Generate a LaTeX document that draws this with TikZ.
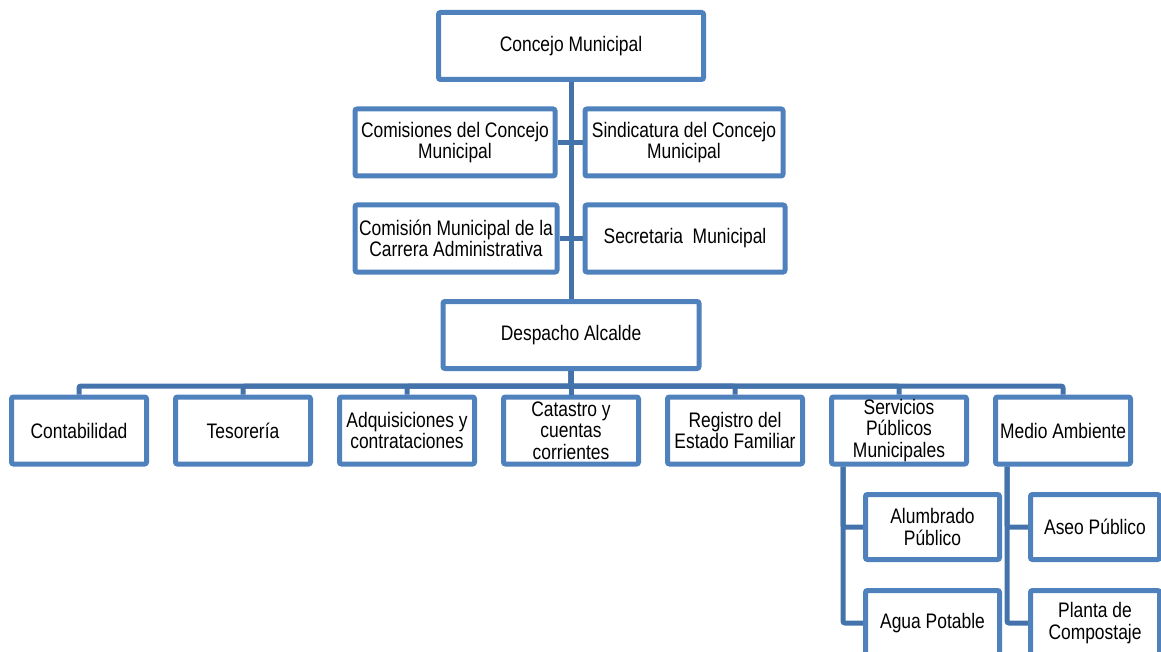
\documentclass[tikz,border=0pt]{standalone}
\usepackage{fontspec}
\setmainfont[FakeStretch=0.83]{Liberation Sans}
\definecolor{boxblue}{RGB}{79,129,189}
\definecolor{lineblue}{RGB}{68,115,172}
\tikzset{
  orgbox/.style={draw=boxblue,line width=5pt,rounded corners=2pt,fill=white,align=center,
    inner sep=0pt,minimum width=#1,minimum height=67pt,font=\fontsize{21pt}{21.5pt}\selectfont},
  link/.style={lineblue,line width=5pt,rounded corners=2pt}
}
\begin{document}
\begin{tikzpicture}[x=1pt,y=-1pt]
\clip (0,0) rectangle (1161,652);
\node[orgbox=265pt] (concejo) at (571,46) {Concejo Municipal};
\node[orgbox=200pt] (comisiones) at (455,142.5) {Comisiones del Concejo\\Municipal};
\node[orgbox=198pt] (sindicatura) at (684,142.5) {Sindicatura del Concejo\\Municipal};
\node[orgbox=202pt] (carrera) at (456,238.5) {Comisión Municipal de la\\Carrera Administrativa};
\node[orgbox=200pt] (secretaria) at (685,238.5) {Secretaria\ \ Municipal};
\node[orgbox=256pt] (despacho) at (571,335) {Despacho Alcalde};
\node[orgbox=135pt] (contabilidad) at (79,430.5) {Contabilidad};
\node[orgbox=135pt] (tesoreria) at (243,430.5) {Tesorería};
\node[orgbox=135pt] (adquisiciones) at (407,430.5) {Adquisiciones y\\contrataciones};
\node[orgbox=135pt] (catastro) at (571,430.5) {Catastro y\\cuentas\\corrientes};
\node[orgbox=135pt] (registro) at (735,430.5) {Registro del\\Estado Familiar};
\node[orgbox=135pt] (servicios) at (899,430.5) {Servicios\\Públicos\\Municipales};
\node[orgbox=135pt] (medio) at (1063,430.5) {Medio Ambiente};
\node[orgbox=134pt,minimum height=65pt] (alumbrado) at (932.5,527) {Alumbrado\\Público};
\node[orgbox=134pt,minimum height=65pt] (agua) at (932.5,623) {Agua Potable};
\node[orgbox=129pt,minimum height=65pt] (aseo) at (1095,527) {Aseo Público};
\node[orgbox=129pt,minimum height=65pt] (planta) at (1095,623) {Planta de\\Compostaje};
\draw[link] (concejo.south) -- (despacho.north);
\draw[link] (comisiones) -- (sindicatura);
\draw[link] (carrera) -- (secretaria);
\foreach \c in {contabilidad,tesoreria,adquisiciones,catastro,registro,servicios,medio}
  \draw[link] (despacho.south) -- ++(0,15) -| (\c.north);
\draw[link] ([xshift=14pt]servicios.south west) |- (alumbrado.west);
\draw[link] ([xshift=14pt]servicios.south west) |- (agua.west);
\draw[link] ([xshift=14pt]medio.south west) |- (aseo.west);
\draw[link] ([xshift=14pt]medio.south west) |- (planta.west);
\end{tikzpicture}
\end{document}
